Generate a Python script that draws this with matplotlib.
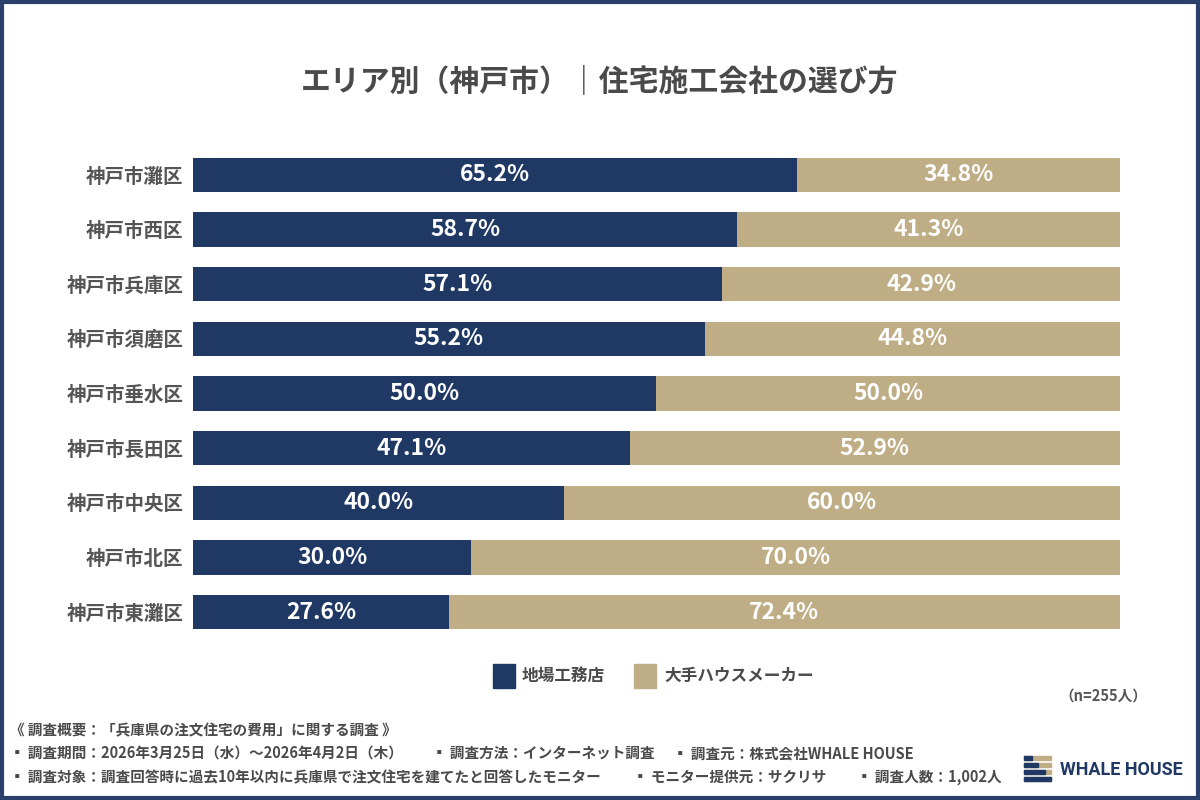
import matplotlib
matplotlib.use("Agg")
import matplotlib.pyplot as plt
from matplotlib.patches import Rectangle
import numpy as np

plt.rcParams['font.family'] = ['Noto Sans CJK JP', 'DejaVu Sans']

areas = ["神戸市灘区", "神戸市西区", "神戸市兵庫区", "神戸市須磨区", "神戸市垂水区",
         "神戸市長田区", "神戸市中央区", "神戸市北区", "神戸市東灘区"]
local = [65.2, 58.7, 57.1, 55.2, 50.0, 47.1, 40.0, 30.0, 27.6]
major = [34.8, 41.3, 42.9, 44.8, 50.0, 52.9, 60.0, 70.0, 72.4]
series_names = ["地場工務店", "大手ハウスメーカー"]

navy = "#1f3864"
tan = "#bfae85"
text_gray = "#4a4a4a"

fig = plt.figure(figsize=(12, 8), dpi=100)
fig.patch.set_facecolor("white")

ax = fig.add_axes([0.1608, 0.2005, 0.7725, 0.615])
y = np.arange(len(areas))
ax.barh(y, local, height=0.63, color=navy)
ax.barh(y, major, left=local, height=0.63, color=tan)
for i in range(len(areas)):
    ax.text(local[i] / 2, y[i], f"{local[i]:.1f}%", ha="center", va="center",
            color="white", fontsize=16.5, fontweight="bold")
    ax.text(local[i] + major[i] / 2, y[i], f"{major[i]:.1f}%", ha="center", va="center",
            color="white", fontsize=16.5, fontweight="bold")
ax.set_xlim(0, 100)
ax.set_ylim(len(areas) - 0.5, -0.5)
ax.set_yticks(y)
ax.set_yticklabels(areas, fontsize=14, fontweight="bold", color="#555555")
ax.tick_params(axis="y", length=0, pad=7)
ax.set_xticks([])
for s in ax.spines.values():
    s.set_visible(False)

# title
fig.text(0.5, 0.898, "エリア別（神戸市）｜住宅施工会社の選び方", ha="center", va="center",
         fontsize=21.5, fontweight="bold", color="#4a4a4a")

# legend
fig.patches.append(Rectangle((493 / 1200, 1 - 688 / 800), 22 / 1200, 24 / 800,
                             transform=fig.transFigure, color=navy))
fig.text(522 / 1200, 1 - 676 / 800, series_names[0], va="center", fontsize=12,
         fontweight="bold", color=text_gray)
fig.patches.append(Rectangle((634 / 1200, 1 - 688 / 800), 22 / 1200, 24 / 800,
                             transform=fig.transFigure, color=tan))
fig.text(664 / 1200, 1 - 676 / 800, series_names[1], va="center", fontsize=12,
         fontweight="bold", color=text_gray)

fig.text(1147 / 1200, 1 - 696 / 800, "（n=255人）", ha="right", va="center",
         fontsize=10.5, fontweight="bold", color="#555555")

# footer notes
notes = [
    (10, 730, "《 調査概要：「兵庫県の注文住宅の費用」に関する調査 》"),
    (10, 753, "▪ 調査期間：2026年3月25日（水）〜2026年4月2日（木）"),
    (432, 753, "▪ 調査方法：インターネット調査"),
    (673, 753, "▪ 調査元：株式会社WHALE HOUSE"),
    (10, 777, "▪ 調査対象：調査回答時に過去10年以内に兵庫県で注文住宅を建てたと回答したモニター"),
    (633, 777, "▪ モニター提供元：サクリサ"),
    (857, 777, "▪ 調査人数：1,002人"),
]
for x0, y0, s in notes:
    fig.text(x0 / 1200, 1 - y0 / 800, s, va="center", fontsize=10.5,
             fontweight="bold", color=text_gray)

# logo: four stripes, navy part growing downwards
navy_end = [1032, 1038, 1045, 1051]
for k in range(4):
    yy = 1 - (760 + k * 7) / 800
    fig.patches.append(Rectangle((1024 / 1200, yy), 27 / 1200, 4 / 800,
                                 transform=fig.transFigure, color=tan))
    fig.patches.append(Rectangle((1024 / 1200, yy), (navy_end[k] - 1024) / 1200, 4 / 800,
                                 transform=fig.transFigure, color=navy))
fig.text(1060 / 1200, 1 - 770 / 800, "WHALE HOUSE", va="center", fontsize=13,
         fontweight="bold", color=navy, family="Roboto")

# frame
fig.patches.append(Rectangle((0.0015, 0.002), 0.997, 0.996, transform=fig.transFigure,
                             fill=False, edgecolor="#2b3f6b", linewidth=3))

fig.savefig("out.png", dpi=100, facecolor="white")
